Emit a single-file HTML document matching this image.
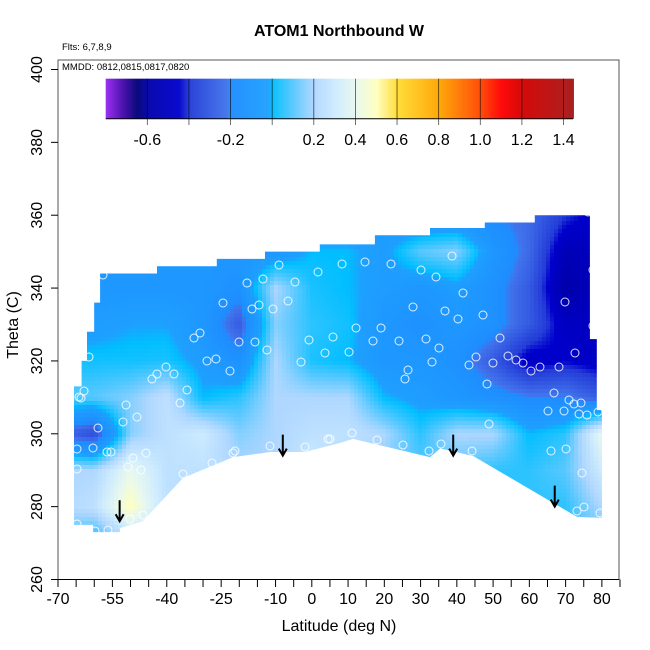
<!DOCTYPE html>
<html><head><meta charset="utf-8">
<style>
body{margin:0;background:#fff;}
svg{display:block;font-family:"Liberation Sans",Arial,sans-serif;}
</style></head>
<body>
<svg id="chart" width="650" height="650" viewBox="0 0 650 650">
<defs><clipPath id="dataClip"><polygon id="clipPoly" points=""/></clipPath></defs>
<text x="339" y="36" text-anchor="middle" font-weight="bold" font-size="16">ATOM1 Northbound W</text>
<text x="62" y="50" font-size="9.5">Flts: 6,7,8,9</text>
<g id="field" clip-path="url(#dataClip)"></g>
<g id="points"></g>
<g id="arrows"></g>
<rect x="58" y="60" width="561" height="519.5" fill="none" stroke="#555" stroke-width="1"/>
<text x="62" y="70" font-size="9.5">MMDD: 0812,0815,0817,0820</text>
<g id="cbar"></g>
<g id="xaxis"></g>
<g id="yaxis"></g>
<text x="339" y="631" text-anchor="middle" font-size="16">Latitude (deg N)</text>
<text x="0" y="0" transform="translate(18,325) rotate(-90)" text-anchor="middle" font-size="16">Theta (C)</text>
</svg>
<script>
const gridLats = [-70,-60,-50,-40,-30,-20,-10,0,10,20,30,40,50,60,70,80];
const gridThetas = [270,280,290,300,310,320,330,340,350,360];
const gridValues = [
 [0.1,0.0,0.2,0.2,0.2,0.2,0.2,0.2,0.2,0.1,0.1,0.05,0.05,0.05,0.05,0.1],
 [0.2,0.25,0.5,0.25,0.2,0.2,0.2,0.2,0.2,0.15,0.1,0.05,0.05,0.05,0.05,0.2],
 [0.2,0.2,0.4,0.25,0.25,0.2,0.2,0.3,0.2,0.15,0.1,0.1,0.05,0.05,0.1,0.3],
 [-0.25,-0.35,0.15,0.25,0.3,0.15,0.2,0.25,0.25,0.2,0.05,0.2,0.2,0.0,0.05,0.4],
 [0.1,0.1,0.15,0.25,0.0,0.05,0.2,0.2,0.2,0.0,-0.05,-0.1,-0.15,-0.2,-0.2,-0.3],
 [0.02,0.02,0.02,0.03,-0.05,-0.15,0.2,0.03,0.0,-0.1,-0.1,-0.15,-0.3,-0.5,-0.45,-0.5],
 [-0.05,-0.05,-0.02,-0.02,-0.1,-0.3,0.15,0.05,0.02,-0.1,-0.15,-0.1,-0.15,-0.3,-0.5,-0.5],
 [-0.1,-0.1,-0.1,-0.1,-0.1,-0.15,0.2,0.03,0.0,-0.05,-0.1,-0.05,-0.15,-0.3,-0.6,-0.5],
 [-0.1,-0.1,-0.1,-0.1,-0.1,-0.1,-0.1,0.0,0.0,-0.05,0.1,0.15,-0.1,-0.25,-0.55,-0.5],
 [-0.1,-0.1,-0.1,-0.1,-0.1,-0.1,-0.1,-0.1,-0.1,-0.1,-0.15,-0.15,-0.2,-0.25,-0.4,-0.5]
];
const boundaryLats = [-65.6,-65.6,-63.5,-63.5,-62,-62,-60,-60,-58.4,-58.4,-42.7,-42.7,-26.2,-26.2,-12.9,-12.9,2.2,2.2,17.4,17.4,32.6,32.6,47.7,47.7,61.5,61.5,76.7,76.7,78.6,78.6,80,80,73.1,44.5,35.4,32.6,11.4,7.8,-1.9,-11.5,-21.7,-35.5,-46.6,-52.9,-52.9,-60.3,-60.3,-65.6];
const boundaryThetas = [275,313,313,320,320,328,328,336,336,344,344,346,346,348,348,350,350,352,352,354.5,354.5,356.5,356.5,358,358,360,360,326,326,306.5,306.5,276.9,277.2,293.9,296,293.6,298.6,297.5,295,295,293.6,287.9,276,274.1,273,273,275,275];
const obsX = [103,279,318,247,263,295,223,252,259,273,288,200,194,239,255,267,309,333,325,301,89,207,216,230,166,157,174,152,187,180,84,79,81,126,137,123,98,77,93,107,111,133,146,128,141,212,183,233,235,270,305,328,77,143,130,77,95,108,342,365,391,421,436,452,463,413,445,458,483,565,593,593,588,356,381,373,399,426,439,349,432,476,469,493,500,508,516,523,531,540,559,575,408,405,487,554,569,574,581,548,564,579,587,598,489,352,377,403,429,441,472,551,566,582,577,584,600,330];
const obsY = [275,265,272,283,279,282,303,309,305,309,301,333,338,342,342,350,340,337,353,362,357,361,359,371,367,374,374,379,390,403,391,397,398,405,417,422,428,449,448,452,452,458,453,467,470,463,474,453,451,446,447,439,469,515,519,524,531,530,264,262,264,270,277,256,293,307,311,319,315,302,270,326,212,328,328,341,341,339,348,352,362,357,365,363,338,356,360,363,371,367,367,353,370,379,384,393,400,404,403,411,411,414,415,412,424,433,440,445,451,444,451,451,449,473,511,507,513,439];
const arrowLats = [-53,-8,39,67];
const arrowThetas = [276,294,294,280];
const cbarTicks = [-0.6,-0.4,-0.2,0,0.2,0.4,0.6,0.8,1.0,1.2,1.4];
const cbarLabels = ["-0.6","","-0.2","","0.2","0.4","0.6","0.8","1.0","1.2","1.4"];
const xTicks = [-70,-65,-60,-55,-50,-45,-40,-35,-30,-25,-20,-15,-10,-5,0,5,10,15,20,25,30,35,40,45,50,55,60,65,70,75,80,85];
const xLabels = [-70,-55,-40,-25,-10,0,10,20,30,40,50,60,70,80];
const yTicks = [260,280,300,320,340,360,380,400];

const NS='http://www.w3.org/2000/svg';
const xs = lat => 58 + (lat + 70) * 562 / 155;
const ys = th => 579.5 - (th - 260) * 510 / 140;
const cx = v => 105.7 + (v + 0.8) * 208.1;

const stops = [[-0.8,[150,40,240]],[-0.72,[70,10,170]],[-0.65,[0,0,120]],[-0.6,[0,0,170]],[-0.45,[0,0,205]],[-0.4,[35,60,215]],[-0.22,[65,115,235]],[-0.2,[30,140,255]],[-0.02,[30,160,255]],[0,[0,190,255]],[0.1,[90,200,255]],[0.2,[175,215,255]],[0.3,[205,235,255]],[0.4,[232,248,238]],[0.5,[255,255,190]],[0.6,[255,220,50]],[0.8,[255,165,0]],[1.0,[255,70,0]],[1.1,[255,0,0]],[1.2,[210,0,0]],[1.4,[175,20,20]],[1.45,[160,25,25]]];
function col(v){
  if(v<=stops[0][0]) return 'rgb('+stops[0][1]+')';
  for(let i=1;i<stops.length;i++){
    if(v<=stops[i][0]){const a=stops[i-1],b=stops[i];const t=(v-a[0])/(b[0]-a[0]);
      return 'rgb('+a[1].map((c,k)=>Math.round(c+(b[1][k]-c)*t)).join(',')+')';}
  }
  return 'rgb('+stops[stops.length-1][1]+')';
}
function interp(lat,th){
  let i=0;while(i<gridLats.length-2&&lat>gridLats[i+1])i++;
  let j=0;while(j<gridThetas.length-2&&th>gridThetas[j+1])j++;
  let tx=(lat-gridLats[i])/(gridLats[i+1]-gridLats[i]);tx=Math.max(0,Math.min(1,tx));
  let ty=(th-gridThetas[j])/(gridThetas[j+1]-gridThetas[j]);ty=Math.max(0,Math.min(1,ty));
  const v00=gridValues[j][i],v10=gridValues[j][i+1],v01=gridValues[j+1][i],v11=gridValues[j+1][i+1];
  return v00*(1-tx)*(1-ty)+v10*tx*(1-ty)+v01*(1-tx)*ty+v11*tx*ty;
}
document.getElementById('clipPoly').setAttribute('points', boundaryLats.map((l,i)=>xs(l).toFixed(1)+','+ys(boundaryThetas[i]).toFixed(1)).join(' '));
const field=document.getElementById('field');
const step=4;
for(let y=205;y<540;y+=step){
  for(let x=70;x<606;x+=step){
    const lat=(x+step/2-58)*155/562-70, th=260+(579.5-(y+step/2))*140/510;
    const r=document.createElementNS(NS,'rect');
    r.setAttribute('x',x);r.setAttribute('y',y);r.setAttribute('width',step+0.5);r.setAttribute('height',step+0.5);
    r.setAttribute('fill',col(interp(lat,th)));
    
    
    field.appendChild(r);
  }
}
const pts=document.getElementById('points');
obsX.forEach((px,i)=>{
  const c=document.createElementNS(NS,'circle');
  c.setAttribute('cx',px);c.setAttribute('cy',obsY[i]);c.setAttribute('r',4);
  c.setAttribute('fill','none');c.setAttribute('stroke','#fff');c.setAttribute('stroke-width','1');c.setAttribute('opacity','0.85');
  
  
  pts.appendChild(c);
});
const arr=document.getElementById('arrows');
arrowLats.forEach((l,i)=>{
  const x=xs(l), yb=ys(arrowThetas[i]);
  const p=document.createElementNS(NS,'path');
  p.setAttribute('d',`M${x},${yb-21}L${x},${yb} M${x-4},${yb-7}L${x},${yb}L${x+4},${yb-7}`);
  p.setAttribute('stroke','#000');p.setAttribute('stroke-width','2');p.setAttribute('fill','none');
  
  
  arr.appendChild(p);
});
const cb=document.getElementById('cbar');
for(let x=105.7;x<573;x+=1){
  const v=(x-105.7)/208.1-0.8;
  const r=document.createElementNS(NS,'rect');
  r.setAttribute('x',x);r.setAttribute('y',78.7);r.setAttribute('width',1.2);r.setAttribute('height',40);
  r.setAttribute('fill',col(v));
  
  
  cb.appendChild(r);
}
const cbb=document.createElementNS(NS,'line');
cbb.setAttribute('x1',105.7);cbb.setAttribute('x2',573);cbb.setAttribute('y1',118.7);cbb.setAttribute('y2',118.7);cbb.setAttribute('stroke','#000');


cb.appendChild(cbb);
cbarTicks.forEach((v,i)=>{
  const l=document.createElementNS(NS,'line');
  l.setAttribute('x1',cx(v));l.setAttribute('x2',cx(v));l.setAttribute('y1',78.7);l.setAttribute('y2',125);
  l.setAttribute('stroke','#000');l.setAttribute('stroke-width','0.8');l.setAttribute('opacity','0.7');
  
  
  cb.appendChild(l);
  if(cbarLabels[i]){
    const t=document.createElementNS(NS,'text');
    t.setAttribute('x',cx(v));t.setAttribute('y',145);t.setAttribute('text-anchor','middle');t.setAttribute('font-size','16');
    t.textContent=cbarLabels[i];
    
    
    cb.appendChild(t);
  }
});
const xa=document.getElementById('xaxis');
const xl=document.createElementNS(NS,'line');
xl.setAttribute('x1',58);xl.setAttribute('x2',619);xl.setAttribute('y1',579.5);xl.setAttribute('y2',579.5);xl.setAttribute('stroke','#000');


xa.appendChild(xl);
xTicks.forEach(v=>{
  const l=document.createElementNS(NS,'line');
  l.setAttribute('x1',xs(v));l.setAttribute('x2',xs(v));l.setAttribute('y1',579.5);l.setAttribute('y2',587);l.setAttribute('stroke','#000');
  
  
  xa.appendChild(l);
});
xLabels.forEach(v=>{
  const t=document.createElementNS(NS,'text');
  t.setAttribute('x',xs(v));t.setAttribute('y',604);t.setAttribute('text-anchor','middle');t.setAttribute('font-size','16');
  t.textContent=v;
  
  
  xa.appendChild(t);
});
const ya=document.getElementById('yaxis');
yTicks.forEach(v=>{
  const l=document.createElementNS(NS,'line');
  l.setAttribute('x1',51);l.setAttribute('x2',58);l.setAttribute('y1',ys(v));l.setAttribute('y2',ys(v));l.setAttribute('stroke','#000');
  
  
  ya.appendChild(l);
  const t=document.createElementNS(NS,'text');
  t.setAttribute('transform',`translate(42,${ys(v)}) rotate(-90)`);t.setAttribute('text-anchor','middle');t.setAttribute('font-size','16');
  t.textContent=v;
  
  
  ya.appendChild(t);
});
</script>
</body></html>
